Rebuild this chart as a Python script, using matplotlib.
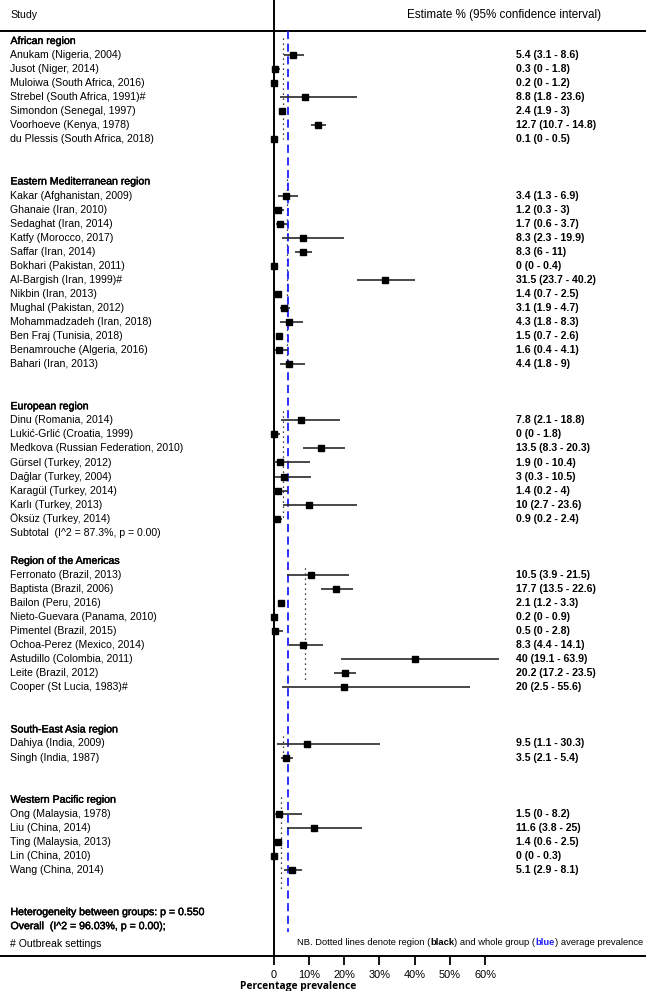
import matplotlib
matplotlib.use('Agg')
import matplotlib.pyplot as plt
import matplotlib.patheffects as pe
from matplotlib.transforms import blended_transform_factory

plt.rcParams['font.family'] = ['Liberation Sans', 'DejaVu Sans']

# ---------------- data ----------------
region_names = ["African region", "Eastern Mediterranean region", "European region",
                "Region of the Americas", "South-East Asia region", "Western Pacific region"]

african_studies = ["Anukam (Nigeria, 2004)", "Jusot (Niger, 2014)", "Muloiwa (South Africa, 2016)",
                   "Strebel (South Africa, 1991)#", "Simondon (Senegal, 1997)",
                   "Voorhoeve (Kenya, 1978)", "du Plessis (South Africa, 2018)"]
african_est = [5.4, 0.3, 0.2, 8.8, 2.4, 12.7, 0.1]
african_lo = [3.1, 0, 0, 1.8, 1.9, 10.7, 0]
african_hi = [8.6, 1.8, 1.2, 23.6, 3, 14.8, 0.5]

emr_studies = ["Kakar (Afghanistan, 2009)", "Ghanaie (Iran, 2010)", "Sedaghat (Iran, 2014)",
               "Katfy (Morocco, 2017)", "Saffar (Iran, 2014)", "Bokhari (Pakistan, 2011)",
               "Al-Bargish (Iran, 1999)#", "Nikbin (Iran, 2013)", "Mughal (Pakistan, 2012)",
               "Mohammadzadeh (Iran, 2018)", "Ben Fraj (Tunisia, 2018)",
               "Benamrouche (Algeria, 2016)", "Bahari (Iran, 2013)"]
emr_est = [3.4, 1.2, 1.7, 8.3, 8.3, 0, 31.5, 1.4, 3.1, 4.3, 1.5, 1.6, 4.4]
emr_lo = [1.3, 0.3, 0.6, 2.3, 6, 0, 23.7, 0.7, 1.9, 1.8, 0.7, 0.4, 1.8]
emr_hi = [6.9, 3, 3.7, 19.9, 11, 0.4, 40.2, 2.5, 4.7, 8.3, 2.6, 4.1, 9]

eur_studies = ["Dinu (Romania, 2014)", "Lukić-Grlić (Croatia, 1999)",
               "Medkova (Russian Federation, 2010)", "Gürsel (Turkey, 2012)",
               "Dağlar (Turkey, 2004)", "Karagül (Turkey, 2014)", "Karlı (Turkey, 2013)",
               "Öksüz (Turkey, 2014)"]
eur_est = [7.8, 0, 13.5, 1.9, 3, 1.4, 10, 0.9]
eur_lo = [2.1, 0, 8.3, 0, 0.3, 0.2, 2.7, 0.2]
eur_hi = [18.8, 1.8, 20.3, 10.4, 10.5, 4, 23.6, 2.4]

amr_studies = ["Ferronato (Brazil, 2013)", "Baptista (Brazil, 2006)", "Bailon (Peru, 2016)",
               "Nieto-Guevara (Panama, 2010)", "Pimentel (Brazil, 2015)",
               "Ochoa-Perez (Mexico, 2014)", "Astudillo (Colombia, 2011)",
               "Leite (Brazil, 2012)", "Cooper (St Lucia, 1983)#"]
amr_est = [10.5, 17.7, 2.1, 0.2, 0.5, 8.3, 40, 20.2, 20]
amr_lo = [3.9, 13.5, 1.2, 0, 0, 4.4, 19.1, 17.2, 2.5]
amr_hi = [21.5, 22.6, 3.3, 0.9, 2.8, 14.1, 63.9, 23.5, 55.6]

sear_studies = ["Dahiya (India, 2009)", "Singh (India, 1987)"]
sear_est = [9.5, 3.5]
sear_lo = [1.1, 2.1]
sear_hi = [30.3, 5.4]

wpr_studies = ["Ong (Malaysia, 1978)", "Liu (China, 2014)", "Ting (Malaysia, 2013)",
               "Lin (China, 2010)", "Wang (China, 2014)"]
wpr_est = [1.5, 11.6, 1.4, 0, 5.1]
wpr_lo = [0, 3.8, 0.6, 0, 2.9]
wpr_hi = [8.2, 25, 2.5, 0.3, 8.1]

region_avg = [2.8, 3.9, 2.6, 8.9, 2.8, 2.0]   # dotted black lines
overall_avg = 4.0                             # dashed blue line

subtotals = [None, None, "Subtotal  (I^2 = 87.3%, p = 0.00)", None, None, None]
footer_lines = ["Heterogeneity between groups: p = 0.550", "Overall  (I^2 = 96.03%, p = 0.00);"]
outbreak_note = "# Outbreak settings"
tick_values = [0, 10, 20, 30, 40, 50, 60]
tick_labels = ["0", "10%", "20%", "30%", "40%", "50%", "60%"]

regions = [
    (african_studies, african_est, african_lo, african_hi),
    (emr_studies, emr_est, emr_lo, emr_hi),
    (eur_studies, eur_est, eur_lo, eur_hi),
    (amr_studies, amr_est, amr_lo, amr_hi),
    (sear_studies, sear_est, sear_lo, sear_hi),
    (wpr_studies, wpr_est, wpr_lo, wpr_hi),
]

# ---------------- layout ----------------
W, H = 646, 991
fig = plt.figure(figsize=(W / 100, H / 100), dpi=100)
bottom_px = 956
ax = fig.add_axes([0, (H - bottom_px) / H, 1, bottom_px / H])

x0_px, px_per_pct = 273.5, 3.53
ax.set_xlim(-x0_px / px_per_pct, (W - x0_px) / px_per_pct)
row0_px, row_px = 41, 14.05
ax.set_ylim((bottom_px - row0_px) / row_px, -row0_px / row_px)

FS = 7.6
trans = blended_transform_factory(ax.transAxes, ax.transData)
label_x = 10.5 / W
est_x = 516 / W
semibold = [pe.withStroke(linewidth=0.3, foreground='black')]

gaps_after = [3, 3, 2, 3, 3, 3]
dot_spans = [(-0.2, 0.0), (-0.2, 0.0), (0.3, 0.0), (0.5, -0.3), (0.5, 0.2), (-0.2, 1.4)]

r = 0
for i, (studies, est, lo, hi) in enumerate(regions):
    title_row = r
    ax.text(label_x, r, region_names[i], transform=trans, fontsize=FS,
            va='center', ha='left', path_effects=semibold)
    r += 1
    rows = list(range(r, r + len(studies)))
    for row, name, e, l, h in zip(rows, studies, est, lo, hi):
        ax.text(label_x, row, name, transform=trans, fontsize=FS, va='center', ha='left')
        ax.text(est_x, row, f"{e:g} ({l:g} - {h:g})", transform=trans, fontsize=FS,
                fontweight='bold', va='center', ha='left')
        ax.plot([l, h], [row, row], color='#2a2a2a', lw=1.2, solid_capstyle='butt', zorder=3)
        ax.plot([e], [row], marker='s', ms=4.5, color='black', ls='none', zorder=4)
    last_row = rows[-1]
    s0, s1 = dot_spans[i]
    ax.plot([region_avg[i], region_avg[i]], [title_row + s0, last_row + s1],
            color='black', lw=0.9, ls=(0, (1, 3)), zorder=2)
    r += len(studies)
    if subtotals[i]:
        ax.text(label_x, r, subtotals[i], transform=trans, fontsize=FS, va='center', ha='left')
        r += 1
    r += gaps_after[i] - 1

for k, txt in enumerate(footer_lines):
    ax.text(label_x, r + k, txt, transform=trans, fontsize=FS,
            va='center', ha='left', path_effects=semibold)
ax.text(label_x, r + 2.3, outbreak_note, transform=trans, fontsize=FS, va='center', ha='left')

# header
header_row = -1.85
ax.text(label_x, header_row, "Study", transform=trans, fontsize=FS, va='center', ha='left')
ax.text(407 / W, header_row, "Estimate % (95% confidence interval)", transform=trans,
        fontsize=8.4, va='center', ha='left')
ax.axhline(-0.71, color='black', lw=1.4)
ax.axvline(0, color='black', lw=1.4)

# overall average
ax.plot([overall_avg, overall_avg], [-0.71, 63.4], color='#1f1fff', lw=1.3,
        ls=(0, (4.5, 2.5)), zorder=2)

# NB line with mixed styles
fig.canvas.draw()
renderer = fig.canvas.get_renderer()
parts = [("NB. Dotted lines denote region (", 'normal', 'black'),
         ("black", 'bold', 'black'),
         (") and whole group (", 'normal', 'black'),
         ("blue", 'bold', '#1f1fff'),
         (") average prevalence", 'normal', 'black')]
xpix = 297
nb_row = r + 2.15
for txt, wt, col in parts:
    t = ax.text(xpix / W, nb_row, txt, transform=trans, fontsize=6.75, fontweight=wt,
                color=col, va='center', ha='left')
    bb = t.get_window_extent(renderer=renderer)
    xpix = bb.x1

# axis
for s in ['left', 'right', 'top']:
    ax.spines[s].set_visible(False)
ax.spines['bottom'].set_linewidth(1.4)
ax.set_yticks([])
ax.set_xticks(tick_values)
ax.set_xticklabels(tick_labels, fontsize=7.9)
ax.tick_params(axis='x', direction='out', length=6.5, width=1.3, pad=3.5)
fig.text(298 / W, (H - 986) / H, "Percentage prevalence", family=['Open Sans', 'DejaVu Sans'],
         fontweight='bold', fontsize=7.4, ha='center', va='center')

fig.savefig('out.png', dpi=100)
